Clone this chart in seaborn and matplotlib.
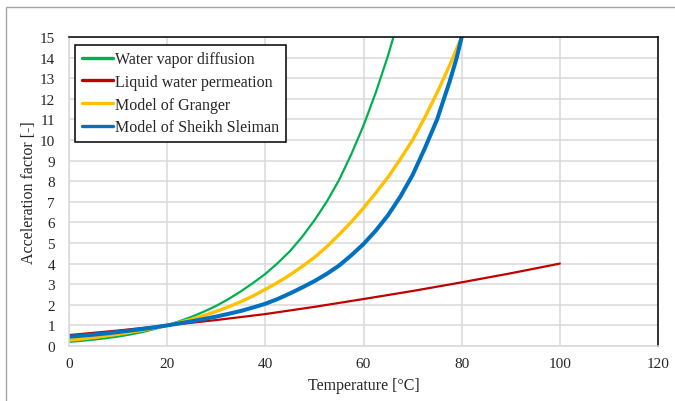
'''
Acceleration factor vs temperature for four moisture models
'''
import pandas as pd
import matplotlib
matplotlib.use('Agg')
import matplotlib.pyplot as plt
from matplotlib.patches import Rectangle
import seaborn as sns

# values
vapor_t = [0, 2.5, 5, 7.5, 10, 12.5, 15, 17.5, 20, 22.5, 25, 27.5, 30,
           32.5, 35, 37.5, 40, 42.5, 45, 47.5, 50, 52.5, 55, 57.5, 60,
           62.5, 65, 66.1]
vapor_v = [0.2, 0.25, 0.31, 0.38, 0.46, 0.56, 0.68, 0.83, 1.0, 1.2, 1.42,
           1.67, 1.95, 2.28, 2.65, 3.06, 3.5, 4.02, 4.6, 5.3, 6.1, 7.0,
           8.05, 9.3, 10.7, 12.3, 14.1, 15.0]

liquid_t = [0, 10, 20, 30, 40, 50, 60, 70, 80, 90, 100]
liquid_v = [0.53, 0.75, 1.0, 1.26, 1.55, 1.9, 2.28, 2.67, 3.09, 3.53, 4.0]

granger_t = [0, 2.5, 5, 7.5, 10, 12.5, 15, 17.5, 20, 22.5, 25, 27.5, 30,
             32.5, 35, 37.5, 40, 42.5, 45, 47.5, 50, 52.5, 55, 57.5, 60,
             62.5, 65, 67.5, 70, 72.5, 75, 77.5, 80]
granger_v = [0.28, 0.34, 0.41, 0.49, 0.57, 0.67, 0.77, 0.88, 1.0, 1.14,
             1.3, 1.48, 1.68, 1.9, 2.15, 2.43, 2.75, 3.08, 3.45, 3.86, 4.3,
             4.82, 5.4, 6.02, 6.7, 7.43, 8.2, 9.07, 10.0, 11.1, 12.3, 13.6,
             15.0]

sleiman_t = [0, 2.5, 5, 7.5, 10, 12.5, 15, 17.5, 20, 22.5, 25, 27.5, 30,
             32.5, 35, 37.5, 40, 42.5, 45, 47.5, 50, 52.5, 55, 57.5, 60,
             62.5, 65, 67.5, 70, 72.5, 75, 77.5, 79, 80]
sleiman_v = [0.45, 0.5, 0.55, 0.61, 0.68, 0.75, 0.83, 0.91, 1.0, 1.1, 1.2,
             1.31, 1.43, 1.56, 1.7, 1.87, 2.05, 2.28, 2.55, 2.84, 3.15, 3.5,
             3.9, 4.4, 4.95, 5.6, 6.35, 7.25, 8.3, 9.6, 11.0, 12.8, 14.0,
             15.0]

labels = ['Water vapor diffusion', 'Liquid water permeation',
          'Model of Granger', 'Model of Sheikh Sleiman']
colors = ['#00B050', '#C00000', '#FFC000', '#0070C0']
widths = [1.6, 1.6, 2.4, 2.9]


def main():
    sns.set_theme(style='whitegrid')
    plt.rcParams['font.family'] = ['Liberation Serif', 'DejaVu Serif']

    fig = plt.figure(figsize=(6.75, 4.02), dpi=100)
    ax = fig.add_axes([69 / 675, 1 - 347 / 402, 589 / 675, 309 / 402])

    series = [(vapor_t, vapor_v), (liquid_t, liquid_v),
              (granger_t, granger_v), (sleiman_t, sleiman_v)]
    for (t, v), lab, col, lw in zip(series, labels, colors, widths):
        df = pd.DataFrame({'T': t, 'AF': v})
        sns.lineplot(data=df, x='T', y='AF', ax=ax, color=col,
                     linewidth=lw, label=lab)

    ax.set_xlim(0, 120)
    ax.set_ylim(0, 15)
    ax.set_xticks(range(0, 121, 20))
    ax.set_yticks(range(0, 16))
    ax.grid(True, color='#D9D9D9', linewidth=1.1)
    ax.tick_params(axis='both', length=0, labelsize=11, colors='#262626')
    ax.tick_params(axis='y', pad=10)
    ax.tick_params(axis='x', pad=8)
    for side in ['left', 'bottom']:
        ax.spines[side].set_color('#D9D9D9')
        ax.spines[side].set_linewidth(1.1)
    for side in ['top', 'right']:
        ax.spines[side].set_color('#000000')
        ax.spines[side].set_linewidth(1.1)

    ax.set_xlabel('Temperature [°C]', fontsize=11.5, color='#262626',
                  labelpad=5)
    ax.set_ylabel('Acceleration factor [-]', fontsize=11.5, color='#262626',
                  labelpad=2)

    leg = ax.legend(loc='upper left', bbox_to_anchor=(0.005, 0.985),
                    fontsize=11.5, frameon=True, fancybox=False,
                    edgecolor='#000000', framealpha=1, handlelength=2.0,
                    handletextpad=0.1, labelspacing=0.42, borderpad=0.4,
                    borderaxespad=0.2)
    leg.get_frame().set_linewidth(1.1)
    for line in leg.get_lines():
        line.set_linewidth(2.4)

    # outer chart frame
    fig.add_artist(Rectangle((6 / 675, -0.1), 1.2, 1.1 - 8 / 402,
                             transform=fig.transFigure, fill=False,
                             edgecolor='#A6A6A6', linewidth=1.0))

    fig.savefig('out.png', dpi=100)


if __name__ == '__main__':
    main()
